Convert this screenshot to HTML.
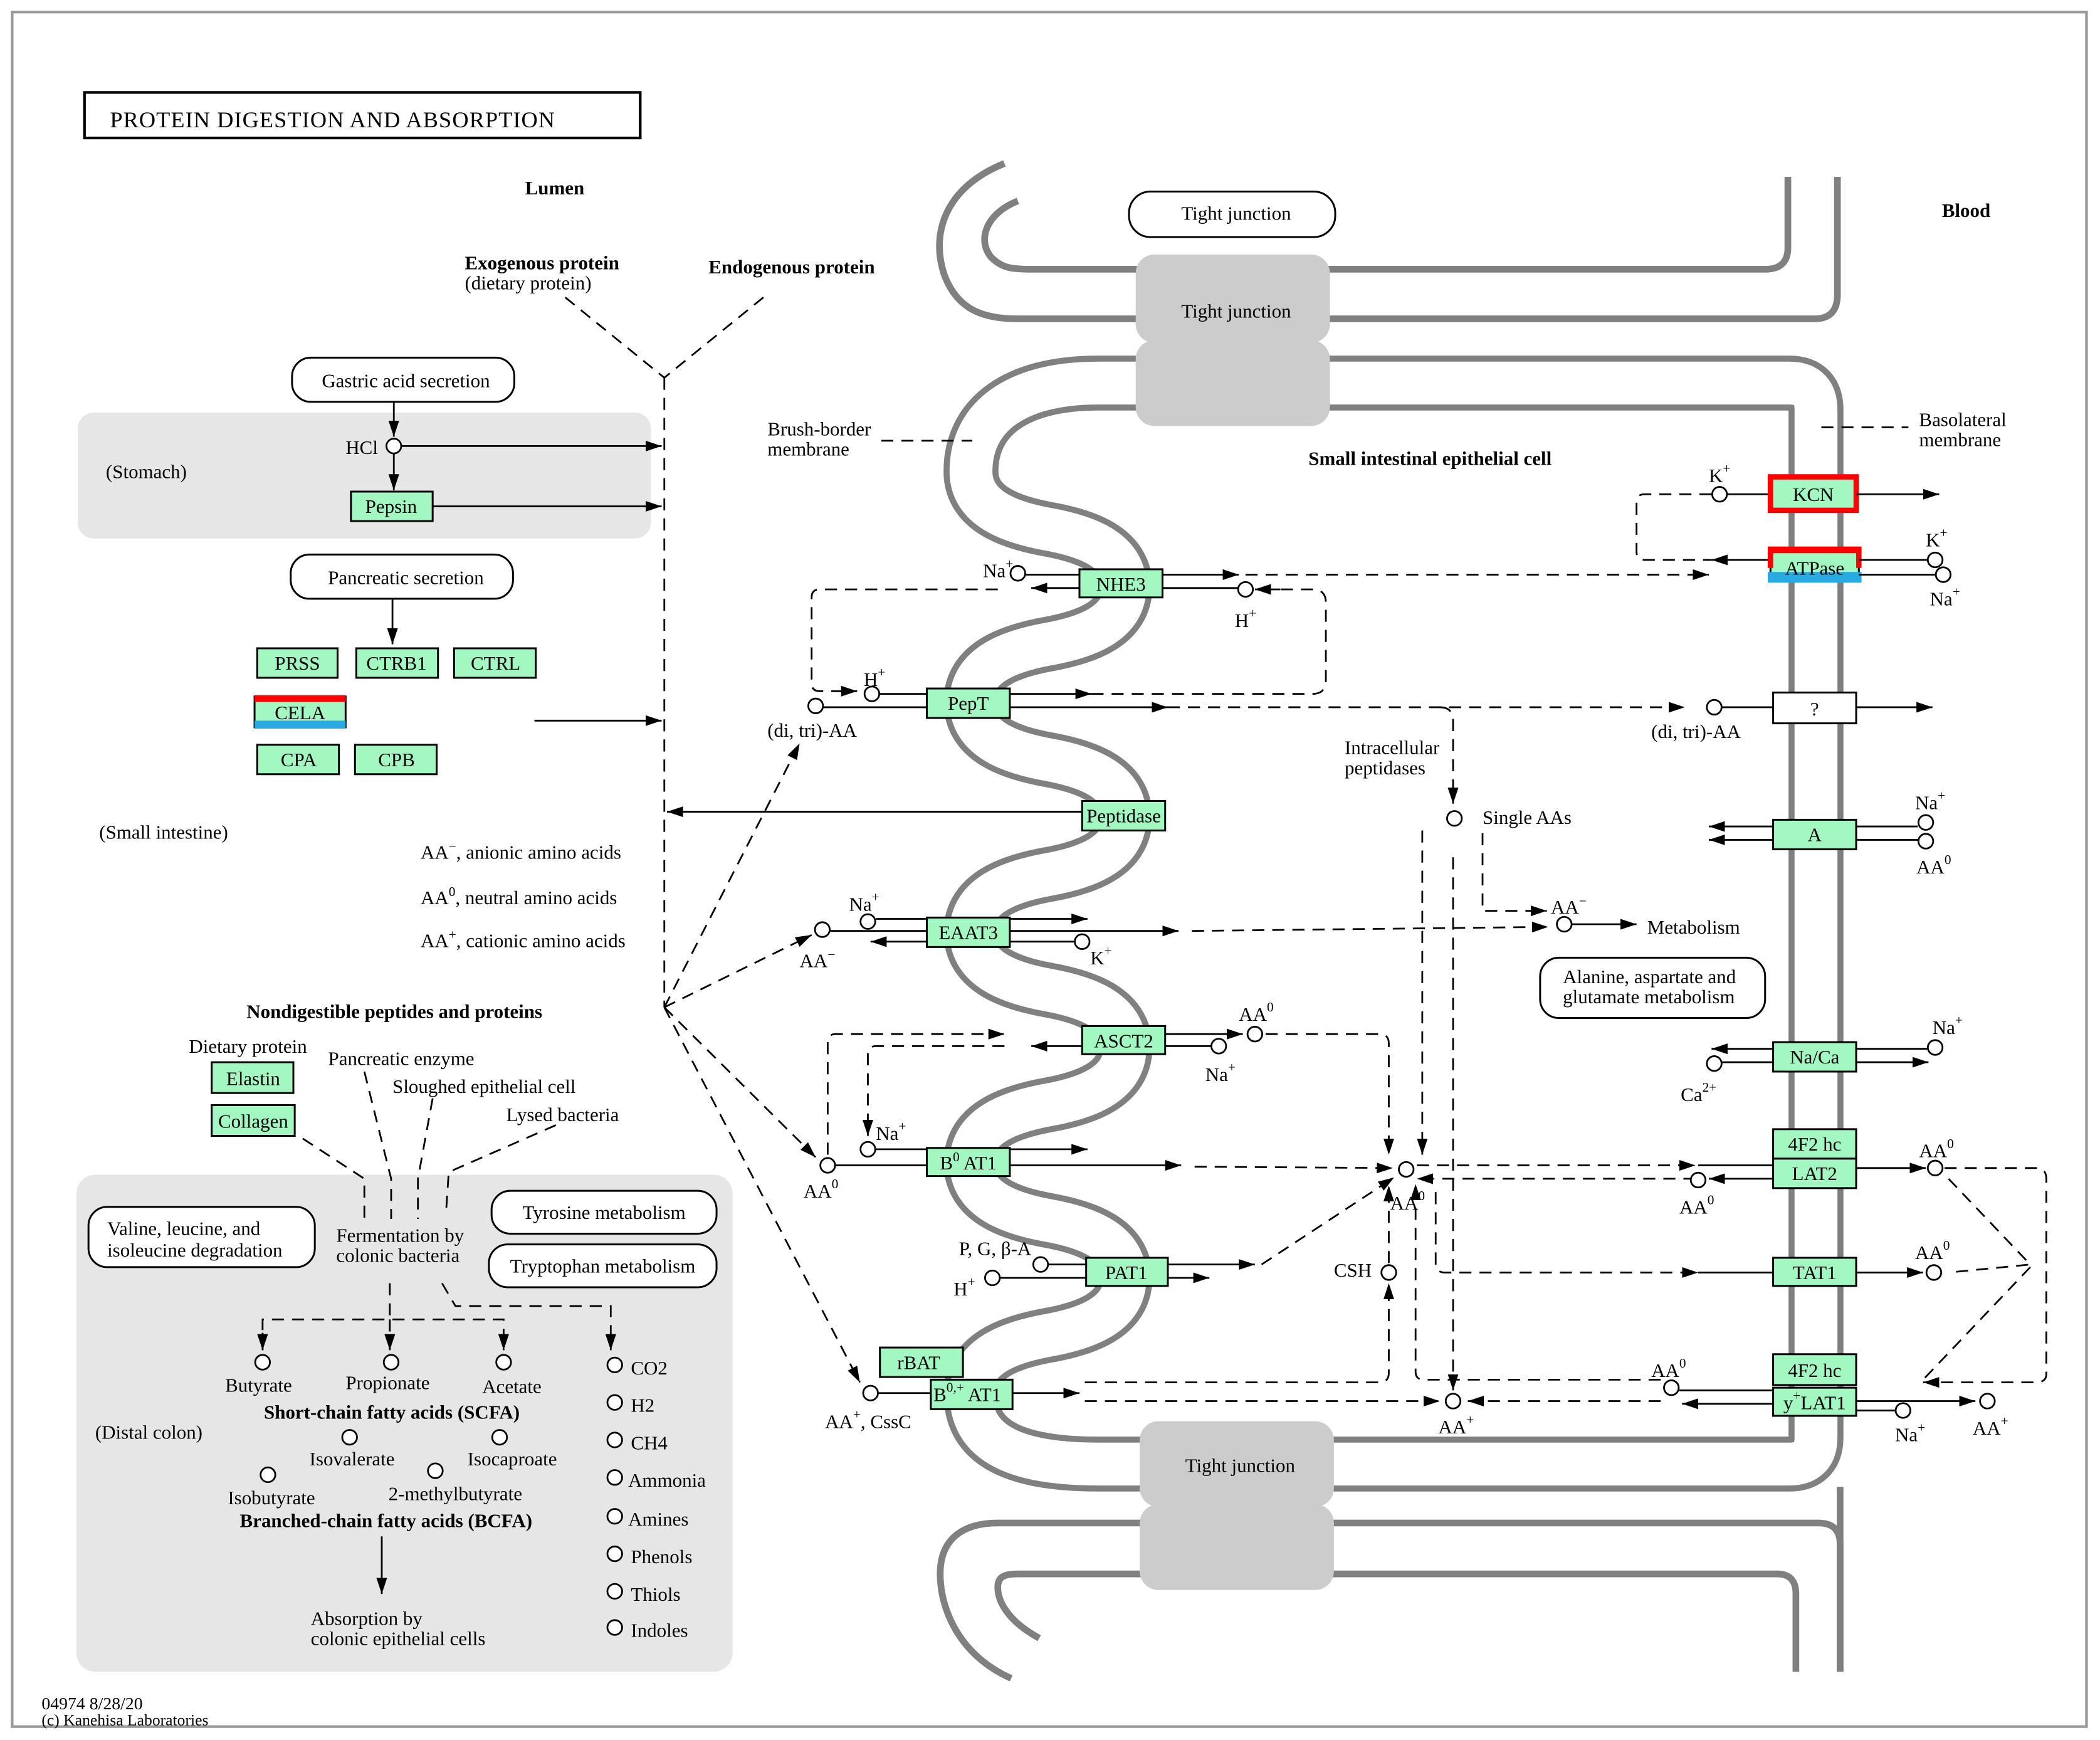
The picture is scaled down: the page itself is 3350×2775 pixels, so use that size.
<!DOCTYPE html>
<html><head><meta charset="utf-8"><style>
html,body{margin:0;padding:0;background:#fff}
svg{display:block}
text{font-family:"Liberation Serif",serif;font-size:14.5px;fill:#000}
.b{font-weight:bold}
.c{text-anchor:middle}
.ln{stroke:#000;stroke-width:1.3;fill:none}
.d{stroke:#000;stroke-width:1.3;fill:none;stroke-dasharray:9,6}
.g{fill:#a3f7c1;stroke:#000;stroke-width:1.4}
.rb{fill:#fff;stroke:#000;stroke-width:1.4}
.ci{fill:#fff;stroke:#000;stroke-width:1.3}
.mem{stroke:#808080;stroke-width:5;fill:none}
</style></head><body>
<svg width="3350" height="2775" viewBox="0 0 1568 1299" xmlns="http://www.w3.org/2000/svg">
<defs>
<marker id="a" viewBox="0 0 12 8" refX="12" refY="4" markerWidth="12" markerHeight="8" markerUnits="userSpaceOnUse" orient="auto"><path d="M0,0L12,4L0,8z" fill="#000"/></marker>
</defs>
<rect x="9" y="9" width="1549" height="1280" fill="none" stroke="#999" stroke-width="2"/>
<!-- gray regions -->
<rect x="58" y="308" width="428" height="94" rx="12" fill="#e6e6e6"/>
<rect x="57" y="877" width="490" height="371" rx="14" fill="#e6e6e6"/>
<!-- title -->
<rect x="63" y="69" width="415" height="34" fill="#fff" stroke="#000" stroke-width="2"/>
<text x="82" y="95" style="font-size:17px;letter-spacing:0.5px">PROTEIN  DIGESTION  AND  ABSORPTION</text>

<!-- membranes -->
<path d="M 880,286 L 1336,286 Q 1356,286 1356,306 L 1356,1073 Q 1356,1093 1336,1093 L 820,1093 C 745,1093 725,1070 725,1040 C 725,1012 755,1002 782,997 C 810,992 840,982 840,954 C 840,926 810,916 782,911 C 755,906 725,896 725,868 C 725,840 755,830 782,825 C 810,820 840,810 840,782 C 840,754 810,744 782,739 C 755,734 725,724 725,696 C 725,668 755,658 782,653 C 810,648 840,638 840,610 C 840,582 810,572 782,567 C 755,562 725,552 725,524 C 725,496 755,486 782,481 C 810,476 840,466 840,438 C 840,410 810,400 782,395 C 755,390 725,380 725,352 C 725,310 760,286 820,286 Z" fill="none" stroke="#808080" stroke-width="41"/>
<path d="M 880,286 L 1336,286 Q 1356,286 1356,306 L 1356,1073 Q 1356,1093 1336,1093 L 820,1093 C 745,1093 725,1070 725,1040 C 725,1012 755,1002 782,997 C 810,992 840,982 840,954 C 840,926 810,916 782,911 C 755,906 725,896 725,868 C 725,840 755,830 782,825 C 810,820 840,810 840,782 C 840,754 810,744 782,739 C 755,734 725,724 725,696 C 725,668 755,658 782,653 C 810,648 840,638 840,610 C 840,582 810,572 782,567 C 755,562 725,552 725,524 C 725,496 755,486 782,481 C 810,476 840,466 840,438 C 840,410 810,400 782,395 C 755,390 725,380 725,352 C 725,310 760,286 820,286 Z" fill="none" stroke="#fff" stroke-width="32"/>
<!-- right extension -->
<line x1="1374" y1="1110" x2="1374" y2="1248" class="mem"/>
<!-- top membrane -->
<path class="mem" d="M 750,122 C 705,140 695,175 705,205 C 715,232 735,238 760,238 L 1355,238 Q 1372,238 1372,220 L 1372,132"/>
<path class="mem" d="M 760,150 C 735,160 730,180 740,192 C 748,200 755,201 770,201 L 1318,201 Q 1335,201 1335,185 L 1335,132"/>
<!-- bottom membrane -->
<path class="mem" d="M 755,1253 C 715,1235 702,1200 702,1175 C 702,1148 720,1137 745,1137 L 1358,1137 Q 1374,1137 1374,1153 L 1374,1248"/>
<path class="mem" d="M 776,1223 C 752,1210 745,1195 745,1185 C 745,1177 750,1175 760,1175 L 1327,1175 Q 1341,1175 1341,1190 L 1341,1248"/>

<!-- tight junctions -->
<rect x="843" y="143" width="154" height="34" rx="16" class="rb"/>
<text x="923" y="164" class="c">Tight junction</text>
<rect x="848" y="190" width="145" height="66" rx="14" fill="#ccc"/>
<rect x="848" y="254" width="145" height="64" rx="14" fill="#ccc"/>
<text x="923" y="237" class="c">Tight junction</text>
<rect x="851" y="1061" width="145" height="64" rx="14" fill="#ccc"/>
<rect x="851" y="1123" width="145" height="64" rx="14" fill="#ccc"/>
<text x="926" y="1099" class="c">Tight junction</text>

<!-- labels -->
<text x="392" y="145" class="b">Lumen</text>
<text x="1450" y="162" class="b">Blood</text>
<text x="347" y="201" class="b">Exogenous protein</text>
<text x="347" y="216">(dietary protein)</text>
<text x="529" y="204" class="b">Endogenous protein</text>
<text x="977" y="347" class="b">Small intestinal epithelial cell</text>
<text x="573" y="325">Brush-border</text><text x="573" y="340">membrane</text>
<line x1="658" y1="329" x2="726" y2="329" class="d"/>
<text x="1433" y="318">Basolateral</text><text x="1433" y="333">membrane</text>
<line x1="1360" y1="319" x2="1425" y2="319" class="d"/>

<!-- lumen tree -->
<line x1="422" y1="222" x2="496" y2="282" class="d"/>
<line x1="570" y1="222" x2="496" y2="282" class="d"/>
<line x1="496" y1="282" x2="496" y2="752" class="d"/>

<rect x="218" y="267" width="166" height="33" rx="14" class="rb"/><text x="303" y="289" class="c">Gastric acid secretion</text>
<line x1="294" y1="300" x2="294" y2="326" class="ln" marker-end="url(#a)"/>
<circle cx="294" cy="333" r="5.5" class="ci"/><text x="258" y="339">HCl</text>
<line x1="300" y1="333" x2="494" y2="333" class="ln" marker-end="url(#a)"/>
<line x1="294" y1="339" x2="294" y2="366" class="ln" marker-end="url(#a)"/>
<rect x="262" y="367" width="61" height="22" class="g"/><text x="292" y="383" class="c">Pepsin</text>
<line x1="323" y1="378" x2="494" y2="378" class="ln" marker-end="url(#a)"/>
<text x="79" y="357">(Stomach)</text>

<rect x="217" y="414" width="166" height="33" rx="14" class="rb"/><text x="303" y="436" class="c">Pancreatic secretion</text>
<line x1="293" y1="447" x2="293" y2="481" class="ln" marker-end="url(#a)"/>
<rect x="192" y="484" width="60" height="22" class="g"/><text x="222" y="500" class="c">PRSS</text>
<rect x="266" y="484" width="61" height="22" class="g"/><text x="296" y="500" class="c">CTRB1</text>
<rect x="339" y="484" width="61" height="22" class="g"/><text x="370" y="500" class="c">CTRL</text>
<rect x="190" y="520" width="68" height="23" class="g"/>
<rect x="190" y="519" width="68" height="5" fill="#f00"/><rect x="190" y="538" width="68" height="6" fill="#29abe2"/>
<text x="224" y="537" class="c">CELA</text>
<rect x="192" y="556" width="61" height="22" class="g"/><text x="223" y="572" class="c">CPA</text>
<rect x="265" y="556" width="61" height="22" class="g"/><text x="296" y="572" class="c">CPB</text>
<line x1="399" y1="538" x2="494" y2="538" class="ln" marker-end="url(#a)"/>
<line x1="808" y1="606" x2="498" y2="606" class="ln" marker-end="url(#a)"/>

<text x="74" y="626">(Small intestine)</text>
<text x="314" y="641">AA<tspan dy="-6" font-size="10">−</tspan><tspan dy="6">, anionic amino acids</tspan></text>
<text x="314" y="675">AA<tspan dy="-6" font-size="10">0</tspan><tspan dy="6">, neutral amino acids</tspan></text>
<text x="314" y="707">AA<tspan dy="-6" font-size="10">+</tspan><tspan dy="6">, cationic amino acids</tspan></text>

<line x1="496" y1="752" x2="597" y2="555" class="d" marker-end="url(#a)"/>
<line x1="496" y1="752" x2="606" y2="698" class="d" marker-end="url(#a)"/>
<line x1="496" y1="752" x2="609" y2="864" class="d" marker-end="url(#a)"/>
<line x1="496" y1="752" x2="642" y2="1032" class="d" marker-end="url(#a)"/>

<!-- distal colon -->
<text x="184" y="760" class="b">Nondigestible peptides and proteins</text>
<text x="141" y="786">Dietary protein</text>
<rect x="158" y="793" width="61" height="23" class="g"/><text x="189" y="810" class="c">Elastin</text>
<rect x="158" y="825" width="62" height="23" class="g"/><text x="189" y="842" class="c">Collagen</text>
<text x="245" y="795">Pancreatic enzyme</text>
<text x="293" y="816">Sloughed epithelial cell</text>
<text x="378" y="837">Lysed bacteria</text>
<path class="d" d="M226,850 L272,880 L272,910"/>
<path class="d" d="M272,800 L292,880 L292,910"/>
<path class="d" d="M323,820 L312,880 L312,910"/>
<path class="d" d="M415,840 L335,875 L333,905"/>
<rect x="66" y="901" width="169" height="45" rx="14" class="rb"/>
<text x="80" y="922">Valine, leucine, and</text><text x="80" y="938">isoleucine degradation</text>
<text x="251" y="927">Fermentation by</text><text x="251" y="942">colonic bacteria</text>
<rect x="367" y="889" width="168" height="32" rx="14" class="rb"/><text x="451" y="910" class="c">Tyrosine metabolism</text>
<rect x="365" y="929" width="170" height="32" rx="14" class="rb"/><text x="450" y="950" class="c">Tryptophan metabolism</text>
<path class="d" d="M291,958 L291,985"/>
<path class="d" d="M196,1008 L196,985 L376,985 L376,1008" marker-end="url(#a)"/>
<line x1="196" y1="995" x2="196" y2="1008" class="ln" marker-end="url(#a)"/>
<line x1="291" y1="985" x2="291" y2="1008" class="d" marker-end="url(#a)"/>
<path class="d" d="M330,958 L340,975 L456,975 L456,1008" marker-end="url(#a)"/>
<circle cx="196" cy="1017" r="5.5" class="ci"/><text x="168" y="1039">Butyrate</text>
<circle cx="292" cy="1017" r="5.5" class="ci"/><text x="258" y="1037">Propionate</text>
<circle cx="376" cy="1017" r="5.5" class="ci"/><text x="360" y="1040">Acetate</text>
<text x="197" y="1059" class="b">Short-chain fatty acids (SCFA)</text>
<circle cx="261" cy="1073" r="5.5" class="ci"/><text x="231" y="1094">Isovalerate</text>
<circle cx="373" cy="1073" r="5.5" class="ci"/><text x="349" y="1094">Isocaproate</text>
<circle cx="200" cy="1101" r="5.5" class="ci"/><text x="170" y="1123">Isobutyrate</text>
<circle cx="325" cy="1098" r="5.5" class="ci"/><text x="290" y="1120">2-methylbutyrate</text>
<text x="179" y="1140" class="b">Branched-chain fatty acids (BCFA)</text>
<line x1="285" y1="1147" x2="285" y2="1190" class="ln" marker-end="url(#a)"/>
<text x="232" y="1213">Absorption by</text><text x="232" y="1228">colonic epithelial cells</text>
<text x="71" y="1074">(Distal colon)</text>
<g>
<circle cx="459" cy="1019" r="5.5" class="ci"/><text x="471" y="1026">CO2</text>
<circle cx="459" cy="1047" r="5.5" class="ci"/><text x="471" y="1054">H2</text>
<circle cx="459" cy="1075" r="5.5" class="ci"/><text x="471" y="1082">CH4</text>
<circle cx="459" cy="1103" r="5.5" class="ci"/><text x="469" y="1110">Ammonia</text>
<circle cx="459" cy="1132" r="5.5" class="ci"/><text x="469" y="1139">Amines</text>
<circle cx="459" cy="1160" r="5.5" class="ci"/><text x="471" y="1167">Phenols</text>
<circle cx="459" cy="1188" r="5.5" class="ci"/><text x="471" y="1195">Thiols</text>
<circle cx="459" cy="1215" r="5.5" class="ci"/><text x="471" y="1222">Indoles</text>
</g>
<text x="31" y="1276" style="font-size:13px">04974 8/28/20</text>
<text x="31" y="1288" style="font-size:12px">(c) Kanehisa Laboratories</text>

<!-- NHE3 -->
<path class="d" d="M745,440 L612,440 Q606,440 606,446 L606,510 Q606,516 612,516 L640,516" marker-end="url(#a)"/>
<circle cx="760" cy="428" r="5.5" class="ci"/><text x="734" y="431">Na<tspan dy="-7" font-size="10">+</tspan></text>
<line x1="766" y1="429" x2="806" y2="429" class="ln"/>
<line x1="806" y1="439" x2="770" y2="439" class="ln" marker-end="url(#a)"/>
<rect x="806" y="425" width="62" height="21" class="g"/><text x="837" y="441" class="c">NHE3</text>
<line x1="868" y1="429" x2="925" y2="429" class="ln" marker-end="url(#a)"/>
<line x1="868" y1="439" x2="924" y2="439" class="ln"/>
<circle cx="930" cy="440" r="5.5" class="ci"/><text x="922" y="468">H<tspan dy="-7" font-size="10">+</tspan></text>
<line x1="930" y1="429" x2="1276" y2="429" class="d" marker-end="url(#a)"/>
<path class="d" d="M815,518 L980,518 Q990,518 990,508 L990,450 Q990,440 980,440 L950,440"/>
<line x1="956" y1="440" x2="937" y2="440" class="ln" marker-end="url(#a)"/>

<!-- PepT -->
<circle cx="651" cy="518" r="5.5" class="ci"/><text x="645" y="512">H<tspan dy="-7" font-size="10">+</tspan></text>
<line x1="657" y1="518" x2="692" y2="518" class="ln"/>
<circle cx="609" cy="527" r="5.5" class="ci"/><text x="573" y="550">(di, tri)-AA</text>
<line x1="615" y1="528" x2="692" y2="528" class="ln"/>
<rect x="692" y="514" width="62" height="22" class="g"/><text x="723" y="530" class="c">PepT</text>
<line x1="754" y1="518" x2="815" y2="518" class="ln" marker-end="url(#a)"/>
<line x1="754" y1="528" x2="872" y2="528" class="ln" marker-end="url(#a)"/>
<line x1="872" y1="528" x2="1258" y2="528" class="d" marker-end="url(#a)"/>
<path class="d" d="M1075,528 Q1085,528 1085,538 L1085,600" marker-end="url(#a)"/>
<circle cx="1280" cy="528" r="5.5" class="ci"/><text x="1233" y="551">(di, tri)-AA</text>
<line x1="1286" y1="528" x2="1324" y2="528" class="ln"/>
<rect x="1324" y="517" width="62" height="23" fill="#fff" stroke="#000" stroke-width="1.4"/><text x="1355" y="534" class="c">?</text>
<line x1="1386" y1="528" x2="1443" y2="528" class="ln" marker-end="url(#a)"/>
<text x="1004" y="563">Intracellular</text><text x="1004" y="578">peptidases</text>
<circle cx="1086" cy="611" r="5.5" class="ci"/><text x="1107" y="615">Single AAs</text>
<path class="d" d="M1107,622 L1107,680 L1155,680" marker-end="url(#a)"/>
<line x1="1062" y1="620" x2="1062" y2="862" class="d" marker-end="url(#a)"/>
<line x1="1085" y1="640" x2="1085" y2="1038" class="d" marker-end="url(#a)"/>

<!-- Peptidase -->
<rect x="808" y="598" width="62" height="22" class="g"/><text x="839" y="614" class="c">Peptidase</text>

<!-- EAAT3 -->
<circle cx="648" cy="688" r="5.5" class="ci"/><text x="634" y="680">Na<tspan dy="-7" font-size="10">+</tspan></text>
<line x1="654" y1="686" x2="692" y2="686" class="ln"/>
<circle cx="614" cy="694" r="5.5" class="ci"/><text x="597" y="722">AA<tspan dy="-6" font-size="10">−</tspan></text>
<line x1="620" y1="695" x2="692" y2="695" class="ln"/>
<line x1="692" y1="703" x2="650" y2="703" class="ln" marker-end="url(#a)"/>
<rect x="692" y="685" width="62" height="22" class="g"/><text x="723" y="701" class="c">EAAT3</text>
<line x1="754" y1="686" x2="812" y2="686" class="ln" marker-end="url(#a)"/>
<line x1="754" y1="695" x2="880" y2="695" class="ln" marker-end="url(#a)"/>
<line x1="754" y1="703" x2="802" y2="703" class="ln"/>
<circle cx="808" cy="703" r="5.5" class="ci"/><text x="814" y="720">K<tspan dy="-7" font-size="10">+</tspan></text>
<line x1="890" y1="695" x2="1156" y2="692" class="d" marker-end="url(#a)"/>
<circle cx="1168" cy="690" r="5.5" class="ci"/><text x="1158" y="682">AA<tspan dy="-6" font-size="10">−</tspan></text>
<line x1="1174" y1="690" x2="1222" y2="690" class="ln" marker-end="url(#a)"/>
<text x="1230" y="697">Metabolism</text>
<rect x="1150" y="715" width="168" height="45" rx="14" class="rb"/>
<text x="1167" y="734">Alanine, aspartate and</text><text x="1167" y="749">glutamate metabolism</text>

<!-- ASCT2 -->
<path class="d" d="M618,862 L618,778 Q618,772 624,772 L750,772" marker-end="url(#a)"/>
<line x1="808" y1="781" x2="770" y2="781" class="ln" marker-end="url(#a)"/>
<path class="d" d="M750,781 L654,781 Q648,781 648,787 L648,848" marker-end="url(#a)"/>
<rect x="808" y="766" width="62" height="21" class="g"/><text x="839" y="782" class="c">ASCT2</text>
<line x1="870" y1="772" x2="928" y2="772" class="ln" marker-end="url(#a)"/>
<line x1="870" y1="781" x2="904" y2="781" class="ln"/>
<circle cx="910" cy="781" r="5.5" class="ci"/><text x="900" y="807">Na<tspan dy="-7" font-size="10">+</tspan></text>
<circle cx="937" cy="772" r="5.5" class="ci"/><text x="925" y="762">AA<tspan dy="-7" font-size="10">0</tspan></text>
<path class="d" d="M945,772 L1030,772 Q1037,772 1037,779 L1037,862" marker-end="url(#a)"/>

<!-- B0AT1 -->
<circle cx="648" cy="858" r="5.5" class="ci"/><text x="654" y="851">Na<tspan dy="-7" font-size="10">+</tspan></text>
<line x1="654" y1="858" x2="692" y2="858" class="ln"/>
<circle cx="618" cy="870" r="5.5" class="ci"/><text x="600" y="894">AA<tspan dy="-7" font-size="10">0</tspan></text>
<line x1="624" y1="870" x2="692" y2="870" class="ln"/>
<rect x="692" y="857" width="62" height="21" class="g"/><text x="723" y="873" class="c">B<tspan dy="-6" font-size="10">0</tspan><tspan dy="6"> AT1</tspan></text>
<line x1="754" y1="858" x2="812" y2="858" class="ln" marker-end="url(#a)"/>
<line x1="754" y1="870" x2="882" y2="870" class="ln" marker-end="url(#a)"/>
<line x1="892" y1="871" x2="1040" y2="872" class="d" marker-end="url(#a)"/>

<!-- central -->
<circle cx="1050" cy="873" r="5.5" class="ci"/><text x="1038" y="903">AA<tspan dy="-7" font-size="10">0</tspan></text>
<line x1="1058" y1="870" x2="1266" y2="870" class="d" marker-end="url(#a)"/>
<line x1="1266" y1="880" x2="1058" y2="880" class="d" marker-end="url(#a)"/>
<path class="d" d="M1072,890 L1072,943 Q1072,950 1079,950 L1268,950" marker-end="url(#a)"/>
<path class="d" d="M1240,1030 L1063,1030 Q1057,1030 1057,1024 L1057,884" marker-end="url(#a)"/>

<!-- PAT1 -->
<text x="716" y="937">P, G, β-A</text>
<circle cx="777" cy="944" r="5.5" class="ci"/>
<circle cx="741" cy="954" r="5.5" class="ci"/><text x="712" y="967">H<tspan dy="-7" font-size="10">+</tspan></text>
<line x1="783" y1="944" x2="811" y2="944" class="ln"/>
<line x1="747" y1="954" x2="811" y2="954" class="ln"/>
<rect x="811" y="939" width="61" height="21" class="g"/><text x="841" y="955" class="c">PAT1</text>
<line x1="872" y1="944" x2="937" y2="944" class="ln" marker-end="url(#a)"/>
<line x1="872" y1="954" x2="903" y2="954" class="ln" marker-end="url(#a)"/>
<line x1="942" y1="944" x2="1041" y2="879" class="d" marker-end="url(#a)"/>
<circle cx="1037" cy="950" r="5.5" class="ci"/><text x="996" y="953">CSH</text>
<line x1="1037" y1="943" x2="1037" y2="885" class="d" marker-end="url(#a)"/>
<path class="d" d="M810,1032 L1030,1032 Q1037,1032 1037,1025 L1037,958" marker-end="url(#a)"/>

<!-- rBAT / B0,+AT1 -->
<rect x="657" y="1006" width="62" height="22" class="g"/><text x="686" y="1022" class="c">rBAT</text>
<circle cx="650" cy="1040" r="5.5" class="ci"/><text x="616" y="1066">AA<tspan dy="-7" font-size="10">+</tspan><tspan dy="7">, CssC</tspan></text>
<line x1="656" y1="1040" x2="695" y2="1040" class="ln"/>
<rect x="695" y="1030" width="61" height="22" class="g"/><text x="697" y="1046">B<tspan dy="-7" font-size="10">0,+</tspan><tspan dy="7"> AT1</tspan></text>
<line x1="756" y1="1040" x2="806" y2="1040" class="ln" marker-end="url(#a)"/>
<line x1="810" y1="1046" x2="1075" y2="1046" class="d" marker-end="url(#a)"/>
<circle cx="1085" cy="1046" r="5.5" class="ci"/><text x="1074" y="1070">AA<tspan dy="-7" font-size="10">+</tspan></text>

<!-- KCN -->
<path class="d" d="M1278,369 L1228,369 Q1222,369 1222,375 L1222,412 Q1222,418 1228,418 L1278,418"/>
<circle cx="1284" cy="369" r="5.5" class="ci"/><text x="1276" y="360">K<tspan dy="-7" font-size="10">+</tspan></text>
<line x1="1290" y1="369" x2="1324" y2="369" class="ln"/>
<rect x="1322" y="356" width="64" height="25" fill="#a3f7c1" stroke="#f00" stroke-width="4"/><text x="1354" y="374" class="c">KCN</text>
<line x1="1386" y1="369" x2="1448" y2="369" class="ln" marker-end="url(#a)"/>
<line x1="1322" y1="418" x2="1278" y2="418" class="ln" marker-end="url(#a)"/>
<rect x="1322" y="410" width="66" height="23" class="g"/>
<rect x="1320" y="408" width="70" height="5" fill="#f00"/><rect x="1320" y="409" width="4" height="15" fill="#f00"/><rect x="1386" y="409" width="4" height="15" fill="#f00"/>
<rect x="1320" y="427" width="70" height="8" fill="#29abe2"/>
<text x="1355" y="429" class="c">ATPase</text>
<line x1="1388" y1="418" x2="1440" y2="418" class="ln"/>
<line x1="1388" y1="429" x2="1446" y2="429" class="ln"/>
<circle cx="1445" cy="418" r="5.5" class="ci"/><text x="1438" y="408">K<tspan dy="-7" font-size="10">+</tspan></text>
<circle cx="1451" cy="429" r="5.5" class="ci"/><text x="1441" y="452">Na<tspan dy="-7" font-size="10">+</tspan></text>

<!-- A -->
<line x1="1324" y1="617" x2="1276" y2="617" class="ln" marker-end="url(#a)"/>
<line x1="1324" y1="627" x2="1276" y2="627" class="ln" marker-end="url(#a)"/>
<rect x="1324" y="612" width="62" height="22" class="g"/><text x="1355" y="628" class="c">A</text>
<line x1="1386" y1="617" x2="1432" y2="617" class="ln"/>
<line x1="1386" y1="627" x2="1432" y2="627" class="ln"/>
<circle cx="1438" cy="614" r="5.5" class="ci"/><text x="1430" y="604">Na<tspan dy="-7" font-size="10">+</tspan></text>
<circle cx="1438" cy="628" r="5.5" class="ci"/><text x="1431" y="652">AA<tspan dy="-7" font-size="10">0</tspan></text>

<!-- Na/Ca -->
<line x1="1324" y1="783" x2="1278" y2="783" class="ln" marker-end="url(#a)"/>
<circle cx="1280" cy="794" r="5.5" class="ci"/><text x="1255" y="822">Ca<tspan dy="-7" font-size="10">2+</tspan></text>
<line x1="1286" y1="793" x2="1324" y2="793" class="ln"/>
<rect x="1324" y="778" width="62" height="22" class="g"/><text x="1355" y="794" class="c">Na/Ca</text>
<line x1="1386" y1="783" x2="1439" y2="783" class="ln"/>
<circle cx="1445" cy="782" r="5.5" class="ci"/><text x="1443" y="772">Na<tspan dy="-7" font-size="10">+</tspan></text>
<line x1="1386" y1="793" x2="1440" y2="793" class="ln" marker-end="url(#a)"/>

<!-- 4F2hc / LAT2 -->
<rect x="1324" y="843" width="62" height="22" class="g"/><text x="1355" y="859" class="c">4F2 hc</text>
<rect x="1324" y="865" width="62" height="22" class="g"/><text x="1355" y="881" class="c">LAT2</text>
<line x1="1268" y1="870" x2="1324" y2="870" class="ln"/>
<line x1="1324" y1="880" x2="1276" y2="880" class="ln" marker-end="url(#a)"/>
<circle cx="1268" cy="881" r="5.5" class="ci"/><text x="1254" y="906">AA<tspan dy="-7" font-size="10">0</tspan></text>
<line x1="1386" y1="872" x2="1438" y2="872" class="ln" marker-end="url(#a)"/>
<circle cx="1445" cy="872" r="5.5" class="ci"/><text x="1433" y="864">AA<tspan dy="-7" font-size="10">0</tspan></text>
<path class="d" d="M1452,872 L1520,872 Q1528,872 1528,880 L1528,1026 Q1528,1032 1520,1032 L1436,1032" marker-end="url(#a)"/>
<path class="d" d="M1455,880 L1516,944 L1455,950"/>
<path class="d" d="M1516,946 L1436,1030"/>

<!-- TAT1 -->
<rect x="1324" y="939" width="62" height="21" class="g"/><text x="1355" y="955" class="c">TAT1</text>
<line x1="1268" y1="950" x2="1324" y2="950" class="ln"/>
<line x1="1386" y1="950" x2="1436" y2="950" class="ln" marker-end="url(#a)"/>
<circle cx="1444" cy="950" r="5.5" class="ci"/><text x="1430" y="940">AA<tspan dy="-7" font-size="10">0</tspan></text>

<!-- 4F2hc / y+LAT1 -->
<rect x="1324" y="1011" width="62" height="23" class="g"/><text x="1355" y="1028" class="c">4F2 hc</text>
<rect x="1324" y="1036" width="62" height="21" class="g"/><text x="1355" y="1052" class="c">y<tspan dy="-7" font-size="10">+</tspan><tspan dy="7">LAT1</tspan></text>
<circle cx="1248" cy="1036" r="5.5" class="ci"/><text x="1233" y="1028">AA<tspan dy="-7" font-size="10">0</tspan></text>
<line x1="1254" y1="1038" x2="1324" y2="1038" class="ln"/>
<line x1="1324" y1="1048" x2="1256" y2="1048" class="ln" marker-end="url(#a)"/>
<line x1="1240" y1="1046" x2="1096" y2="1046" class="d" marker-end="url(#a)"/>
<line x1="1386" y1="1046" x2="1475" y2="1046" class="ln" marker-end="url(#a)"/>
<line x1="1386" y1="1053" x2="1415" y2="1053" class="ln"/>
<circle cx="1421" cy="1053" r="5.5" class="ci"/><text x="1415" y="1076">Na<tspan dy="-7" font-size="10">+</tspan></text>
<circle cx="1484" cy="1046" r="5.5" class="ci"/><text x="1473" y="1071">AA<tspan dy="-7" font-size="10">+</tspan></text>
</svg>
</body></html>
